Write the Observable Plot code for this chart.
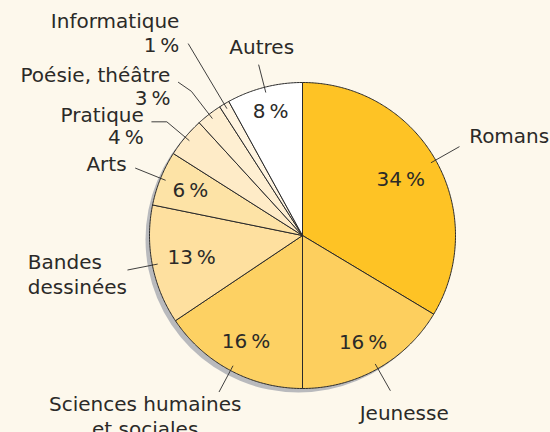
<!DOCTYPE html>
<html><head><meta charset="utf-8">
<script src="https://cdn.jsdelivr.net/npm/d3@7"></script>
<script src="https://cdn.jsdelivr.net/npm/@observablehq/plot@0.6"></script>
<style>
html,body{margin:0;padding:0;background:#fdf8ec;}
</style></head><body><div id="chart"></div>
<script>
// ---- data ----
const categories = ["Romans", "Jeunesse", "Sciences humaines\net sociales", "Bandes\ndessinées", "Arts", "Pratique", "Poésie, théâtre", "Informatique", "Autres"];
const shares = [33.6, 16.4, 15.6, 12.6, 5.8, 4.2, 2.7, 1.1, 8.0];
const percentLabels = ["34\u202f%", "16\u202f%", "16\u202f%", "13\u202f%", "6\u202f%", "4\u202f%", "3\u202f%", "1\u202f%", "8\u202f%"];
const colors = ["#fec325", "#fdcf5e", "#fdd163", "#fee09f", "#fde3a6", "#feebc7", "#feefd2", "#fff4e0", "#ffffff"];

// ---- layout (positions / styles only) ----
const W = 550, H = 432, CX = 302, CY = 235, R = 153;
const layout = [
  {inside: true,  pctR: 113, out: 180, elbow: null,      anchor: "start",  dx: 10,  dy: -4,  gap: 0},
  {inside: true,  pctR: 123, out: 178, elbow: null,      anchor: "middle", dx: 14,  dy: 30,  gap: 0},
  {inside: true,  pctR: 120, out: 177, elbow: null,      anchor: "middle", dx: -74, dy: 19,  gap: 25},
  {inside: true,  pctR: 113, out: 178, elbow: null,      anchor: "start",  dx: -100,dy: -1,  gap: 25},
  {inside: true,  pctR: 121, out: 180, elbow: null,      anchor: "end",    dx: -9,  dy: 3,   gap: 0},
  {inside: false, pctR: 0,   out: 177, elbow: [-15, 0],  anchor: "end",    dx: -8,  dy: 0,   gap: 22},
  {inside: false, pctR: 0,   out: 182, elbow: [-13, -9], anchor: "end",    dx: -8,  dy: 0,   gap: 23},
  {inside: false, pctR: 0,   out: 223, elbow: null,      anchor: "end",    dx: -9,  dy: -16, gap: 24},
  {inside: true,  pctR: 128, out: 176, elbow: null,      anchor: "middle", dx: 3,   dy: -11, gap: 0}
];

const rows = categories.map((c, i) => ({cat: c, share: shares[i], pct: percentLabels[i], ...layout[i]}));
const arcs = d3.pie().sort(null).value(d => d.share)(rows);
const pt = (a, r) => [CX + r * Math.sin(a), CY - r * Math.cos(a)];

// slice polygons
const slicePts = arcs.flatMap(a => {
  const n = Math.max(2, Math.ceil((a.endAngle - a.startAngle) / 0.01));
  const pts = [{cat: a.data.cat, x: CX, y: CY}];
  for (let k = 0; k <= n; k++) {
    const t = a.startAngle + (a.endAngle - a.startAngle) * k / n;
    const [x, y] = pt(t, R);
    pts.push({cat: a.data.cat, x, y});
  }
  pts.push({cat: a.data.cat, x: CX, y: CY});
  return pts;
});

// leaders and labels
const leaderPts = [];
const nameLines = [];
const insideLabels = [];
arcs.forEach(a => {
  const d = a.data;
  const mid = (a.startAngle + a.endAngle) / 2;
  const [x0, y0] = pt(mid, R - 5);
  const [x1, y1] = pt(mid, d.out);
  leaderPts.push({cat: d.cat, x: x0, y: y0}, {cat: d.cat, x: x1, y: y1});
  let ex = x1, ey = y1;
  if (d.elbow) {
    ex = x1 + d.elbow[0]; ey = y1 + d.elbow[1];
    leaderPts.push({cat: d.cat, x: ex, y: ey});
  }
  const lines = d.cat.split("\n");
  if (!d.inside) lines.push(d.pct);
  lines.forEach((t, k) => nameLines.push({text: t, anchor: d.anchor, x: ex + d.dx, y: ey + d.dy + k * d.gap}));
  if (d.inside) {
    const [px, py] = pt(mid, d.pctR);
    insideLabels.push({text: d.pct, x: px, y: py});
  }
});

const textColor = "#2b2a28";
const nameMark = anchor => Plot.text(nameLines.filter(d => d.anchor === anchor), {
  x: "x", y: "y", text: "text", textAnchor: anchor, lineAnchor: "bottom", fill: textColor
});

const chart = Plot.plot({
  width: W, height: H, margin: 0,
  x: {domain: [0, W], range: [0, W], axis: null},
  y: {domain: [0, H], range: [0, H], axis: null},
  color: {domain: categories, range: colors},
  style: {background: "#fdf8ec", fontFamily: "DejaVu Sans", fontSize: "20px"},
  marks: [
    Plot.dot([{x: CX - 4, y: CY + 4}], {x: "x", y: "y", r: R, fill: "#b9babd", stroke: "none"}),
    Plot.line(slicePts, {x: "x", y: "y", z: "cat", fill: "cat", stroke: "#2a2a2a", strokeWidth: 1, strokeLinejoin: "round"}),
    Plot.line(leaderPts, {x: "x", y: "y", z: "cat", stroke: "#2a2a2a", strokeWidth: 0.9}),
    Plot.text(insideLabels, {x: "x", y: "y", text: "text", textAnchor: "middle", lineAnchor: "middle", fill: textColor}),
    nameMark("start"), nameMark("middle"), nameMark("end")
  ]
});
document.getElementById("chart").append(chart);
</script>
</body></html>
